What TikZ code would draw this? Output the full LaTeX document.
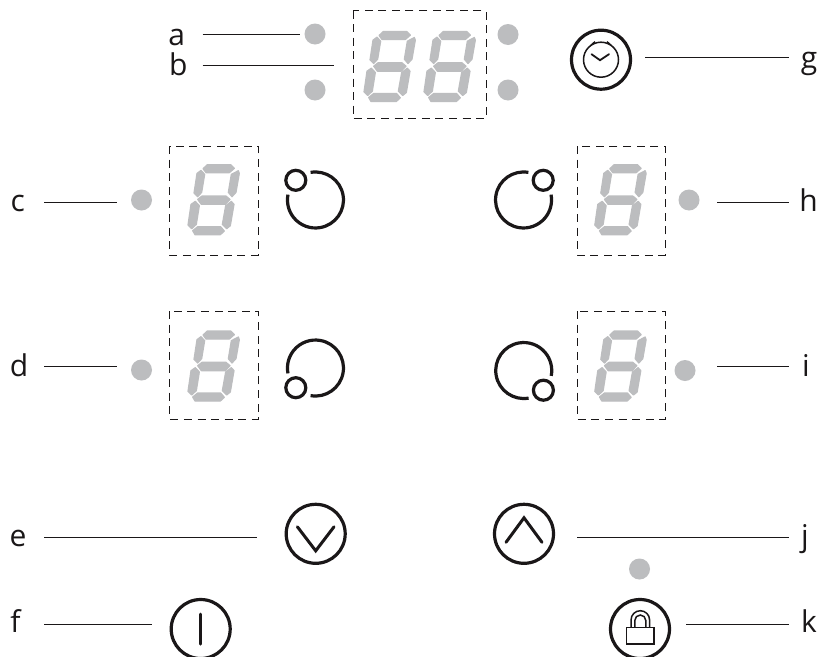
\documentclass[tikz,border=0pt]{standalone}
\usepackage{fontspec}
\setmainfont{Open Sans}
\definecolor{seg}{HTML}{BCBDBF}
\definecolor{ink}{HTML}{1A1718}
\tikzset{
  led/.style={circle,fill=seg,draw=none,minimum size=21pt,inner sep=0pt},
  dashbox/.style={draw=ink,line width=0.9pt,dash pattern=on 8pt off 5.6pt},
  lead/.style={draw=ink,line width=0.9pt},
  lab/.style={text=ink,font=\fontsize{30}{30}\selectfont,anchor=base,inner sep=0pt},
  ring/.style={draw=ink,line width=3.2pt},
  btn/.style={circle,ring,minimum size=59pt,inner sep=0pt},
  glyph/.style={draw=ink,line width=3pt,line cap=round,line join=miter},
  thin glyph/.style={draw=ink,line width=1.5pt},
  segpoly/.style={fill=seg,draw=seg,line width=1.2pt,line join=round},
}
\newcommand{\digitat}[2]{%
  \begin{scope}[shift={(#1,#2)},scale=0.3333,shift={(-280.5,-194)}]
    \path[segpoly] (262,89)--(332,89)--(343,100)--(328,113)--(258,113)--(249,101)--cycle;
    \path[segpoly] (243,106)--(254,118)--(245,172)--(233,185)--(222,174)--(231,115)--cycle;
    \path[segpoly] (355,107)--(358,115)--(348,172)--(336,185)--(325,172)--(334,118)--cycle;
    \path[segpoly] (233,193)--(246,183)--(318,183)--(330,193)--(316,208)--(244,208)--cycle;
    \path[segpoly] (226,199)--(238,212)--(229,268)--(215,281)--(204,270)--(213,208)--cycle;
    \path[segpoly] (334,199)--(342,208)--(331,272)--(320,281)--(307,268)--(317,212)--cycle;
    \path[segpoly] (218,287)--(233,275)--(302,275)--(313,288)--(301,299)--(225,299)--cycle;
  \end{scope}}
\newcommand{\knobring}[4]{%
  \begin{scope}[shift={(#1,#2)},xscale=#3,yscale=#4]
    \draw[ring] (-4.9,-27.6) arc[start angle=-100,end angle=191,radius=28];
    \draw[ring] (-19.7,-19.7) circle[radius=10];
  \end{scope}}
\begin{document}
\begin{tikzpicture}[x=1pt,y=1pt,yscale=-1]
\useasboundingbox[fill=white] (0,0) rectangle (818,656);
% dashed boxes
\draw[dashbox] (353,10.5) rectangle (486,118.5);
\draw[dashbox] (169.5,146) rectangle (258,255);
\draw[dashbox] (169.5,311) rectangle (258,419);
\draw[dashbox] (577,146) rectangle (665,255);
\draw[dashbox] (577,311) rectangle (665,419);
% digits
\digitat{389.5}{66.5}
\digitat{449.5}{66.5}
\digitat{213.5}{199.7}
\digitat{213.5}{366}
\digitat{620.3}{199.7}
\digitat{620.3}{366}
% LEDs
\node[led] (la) at (315,34) {};
\node[led] (lb) at (315,90) {};
\node[led] (lr1) at (508,34.5) {};
\node[led] (lr2) at (508,90) {};
\node[led] (lc) at (141.5,200) {};
\node[led] (ld) at (141.5,370) {};
\node[led] (lh) at (689,200) {};
\node[led] (li) at (685,370.5) {};
\node[led] (ll) at (639.5,569) {};
% rings with small circles
\knobring{315.5}{200}{1}{1}
\knobring{523.5}{200}{-1}{1}
\knobring{315.5}{368}{1}{-1}
\knobring{523.7}{370.5}{-1}{-1}
% buttons
\node[btn] (bg) at (601,59.7) {};
\draw[thin glyph] (bg.center) circle[radius=17.5];
\draw[thin glyph] ([shift={(-10,-14.5)}]bg.center) -- ([shift={(-6,-18)}]bg.center);
\draw[thin glyph] ([shift={(10,-14.5)}]bg.center) -- ([shift={(6,-18)}]bg.center);
\draw[glyph,line width=1.8pt] ([shift={(-9.5,-5.5)}]bg.center) -- ([shift={(-1,0.5)}]bg.center) -- ([shift={(8,-5.5)}]bg.center);
\node[btn] (be) at (315.7,533.8) {};
\draw[glyph] ([shift={(-18.3,-7)}]be.center) -- ([shift={(0,17)}]be.center) -- ([shift={(18.3,-7)}]be.center);
\node[btn] (bj) at (524,533.8) {};
\draw[glyph] ([shift={(-18,8.5)}]bj.center) -- ([shift={(0,-16)}]bj.center) -- ([shift={(18,8.5)}]bj.center);
\node[btn] (bf) at (200.7,629) {};
\draw[glyph] ([shift={(0,-15)}]bf.center) -- ([shift={(0,15)}]bf.center);
\node[btn] (bk) at (640,629) {};
\draw[thin glyph] (626.5,627.5) rectangle (654,644);
\draw[thin glyph] (631,627.5) -- (631,620) arc[start angle=180,end angle=360,radius=9.3] -- (649.6,627.5);
\draw[thin glyph] (634.8,627.5) -- (634.8,620.5) arc[start angle=180,end angle=360,radius=5.5] -- (645.8,627.5);
% labels
\node[lab] (ta) at (176.7,45) {a};
\node[lab] (tb) at (178.3,75.7) {b};
\node[lab] (tc) at (17.7,211.7) {c};
\node[lab] (td) at (19,376.7) {d};
\node[lab] (te) at (18,546.7) {e};
\node[lab] (tf) at (15.5,632.7) {f};
\node[lab] (tg) at (809,68.7) {g};
\node[lab] (th) at (808.5,211.7) {h};
\node[lab] (ti) at (806,376.7) {i};
\node[lab] (tj) at (805,546.7) {j};
\node[lab] (tk) at (809,632) {k};
% leaders
\coordinate (a0) at (202.7,34.3); \coordinate (a1) at (300,34.3);
\coordinate (b0) at (202.7,65.6); \coordinate (b1) at (334,65.6);
\coordinate (c0) at (44,202); \coordinate (c1) at (117,202);
\coordinate (d0) at (44,366.7); \coordinate (d1) at (117,366.7);
\coordinate (e0) at (44,537.7); \coordinate (e1) at (257,537.7);
\coordinate (f0) at (44,624); \coordinate (f1) at (152,624);
\coordinate (g0) at (645,57.5); \coordinate (g1) at (789,57.5);
\coordinate (h0) at (717,202); \coordinate (h1) at (789,202);
\coordinate (i0) at (717,366.7); \coordinate (i1) at (789,366.7);
\coordinate (j0) at (577,537.7); \coordinate (j1) at (789,537.7);
\coordinate (k0) at (686,624); \coordinate (k1) at (789,624);
\foreach \n in {a,b,c,d,e,f,g,h,i,j,k} \draw[lead] (\n0) -- (\n1);
\end{tikzpicture}
\end{document}
